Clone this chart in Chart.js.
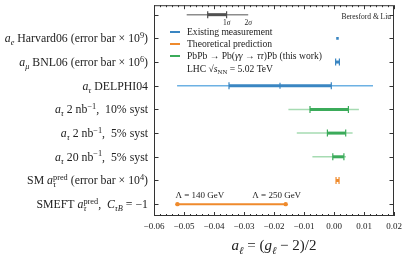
<!DOCTYPE html>
<html>
<head>
<meta charset="utf-8">
<script src="https://cdn.jsdelivr.net/npm/chart.js@4.4.0/dist/chart.umd.min.js"></script>
<style>
  html, body { margin: 0; padding: 0; background: #fff; }
</style>
</head>
<body>
<canvas id="gChart" width="407" height="259"></canvas>
<script>
// Row labels, top to bottom (row 0 holds the 1σ / 2σ key)
const rowLabels = [
    '',
    '*a*_{*e*} Harvard06 (error bar × 10^{9})',
    '*a*_{*μ*} BNL06 (error bar × 10^{6})',
    '*a*_{*τ*} DELPHI04',
    '*a*_{*τ*} 2 nb^{−1},  10% syst',
    '*a*_{*τ*} 2 nb^{−1},  5% syst',
    '*a*_{*τ*} 20 nb^{−1},  5% syst',
    'SM *a*^{pred}_{*τ*} (error bar × 10^{4})',
    'SMEFT *a*^{pred}_{*τ*},  *C*_{*τB*} = −1'
];
const rowKind = ['key', 'existing', 'existing', 'existing', 'lhc', 'lhc', 'lhc', 'theory', 'theory'];

// 1σ (thick) and 2σ (thin) intervals
const lo1 = [-0.0421, null, 0.00054, -0.0350, -0.0080, -0.0022, -0.0004, 0.00068, null];
const hi1 = [-0.0358, null, 0.00180, -0.0009, 0.0048, 0.0039, 0.0033, 0.00168, null];
const lo2 = [-0.0491, null, null, -0.0523, -0.0152, -0.0124, -0.0072, null, null];
const hi2 = [-0.0286, null, null, 0.0130, 0.0083, 0.0062, 0.0040, null, null];

// central values shown as markers
const markerX = [0.00116, -0.018];
const markerRow = [1, 3];

// SMEFT band between the two Λ values
const smeftX = [-0.0522, -0.0161];
const smeftLabels = ['Λ = 140 GeV', 'Λ = 250 GeV'];

const legendItems = ['Existing measurement', 'Theoretical prediction', 'PbPb → Pb(*γγ* → *ττ*)Pb (this work)'];
const legendKinds = ['existing', 'theory', 'lhc'];

const xTicks = [-0.06, -0.05, -0.04, -0.03, -0.02, -0.01, 0.00, 0.01, 0.02];
const xTitle = '*a*_{*ℓ*} = (*g*_{*ℓ*} − 2)/2';

const colors = {
    key: { thin: '#8c8c8c', thick: '#505050' },
    existing: { thin: '#6db1e3', thick: '#3a86c2' },
    lhc: { thin: '#a6dbb2', thick: '#3bab5a' },
    theory: { thin: '#f4a35a', thick: '#ef8a2c' }
};

const SERIF = "'Liberation Serif', 'DejaVu Serif', serif";

// tiny markup: *italic*, _{sub}, ^{sup}
function parseRich(s) {
    const out = [];
    let buf = '', italic = false, mode = 'n';
    const flush = () => { if (buf) out.push({ t: buf, it: italic, mode: mode }); buf = ''; };
    for (let i = 0; i < s.length; i++) {
        const c = s[i];
        if (c === '*') { flush(); italic = !italic; continue; }
        if ((c === '_' || c === '^') && s[i + 1] === '{') { flush(); mode = c === '_' ? 'sub' : 'sup'; i++; continue; }
        if (c === '}' && mode !== 'n') { flush(); mode = 'n'; continue; }
        buf += c;
    }
    flush();
    return out;
}

function drawRich(ctx, str, x, y, size, align) {
    const segs = parseRich(str);
    const fontOf = s => (s.it ? 'italic ' : '') + (s.mode === 'n' ? size : size * 0.7).toFixed(1) + 'px ' + SERIF;
    let cx = 0, gStart = null, run = { sub: 0, sup: 0 };
    segs.forEach(s => {
        ctx.font = fontOf(s);
        s.w = ctx.measureText(s.t).width;
        if (s.mode === 'n') {
            if (gStart !== null) { cx = gStart + Math.max(run.sub, run.sup); gStart = null; }
            s.x = cx; cx += s.w;
        } else {
            if (gStart === null) { gStart = cx; run = { sub: 0, sup: 0 }; }
            s.x = gStart + run[s.mode];
            run[s.mode] += s.w;
        }
    });
    if (gStart !== null) cx = gStart + Math.max(run.sub, run.sup);
    const off = align === 'right' ? x - cx : align === 'center' ? x - cx / 2 : x;
    ctx.textBaseline = 'alphabetic';
    ctx.textAlign = 'left';
    segs.forEach(s => {
        ctx.font = fontOf(s);
        const dy = s.mode === 'sub' ? size * 0.25 : s.mode === 'sup' ? -size * 0.38 : 0;
        ctx.fillText(s.t, off + s.x, y + dy);
    });
    return cx;
}

function fmtTick(v) {
    const s = Math.abs(v).toFixed(2);
    return v < -1e-9 ? '\u2212' + s : s;
}

// Draws error bars, frame, ticks and all the text through the chart's scales
const forestPlugin = {
    id: 'forest',
    beforeDatasetsDraw(chart) {
        const { ctx, scales: { x, y } } = chart;
        ctx.save();
        ctx.lineCap = 'butt';
        for (let i = 0; i < rowLabels.length; i++) {
            const col = colors[rowKind[i]];
            const py = y.getPixelForValue(i);
            if (lo2[i] !== null) {
                ctx.strokeStyle = col.thin;
                ctx.lineWidth = 1.5;
                ctx.beginPath();
                ctx.moveTo(x.getPixelForValue(lo2[i]), py);
                ctx.lineTo(x.getPixelForValue(hi2[i]), py);
                ctx.stroke();
            }
            if (lo1[i] !== null) {
                const a = x.getPixelForValue(lo1[i]), b = x.getPixelForValue(hi1[i]);
                ctx.strokeStyle = col.thick;
                ctx.lineWidth = 3;
                ctx.beginPath();
                ctx.moveTo(a, py);
                ctx.lineTo(b, py);
                ctx.stroke();
                ctx.lineWidth = 1.2;
                ctx.beginPath();
                [a, b].forEach(px => { ctx.moveTo(px, py - 3.5); ctx.lineTo(px, py + 3.5); });
                ctx.stroke();
            }
        }
        ctx.restore();
    },
    afterDraw(chart) {
        const { ctx, chartArea: ca, scales: { x, y } } = chart;
        ctx.save();
        ctx.fillStyle = '#222';

        // frame
        ctx.strokeStyle = '#333';
        ctx.lineWidth = 1;
        ctx.strokeRect(ca.left + 0.5, ca.top + 0.5, ca.right - ca.left - 1, ca.bottom - ca.top - 1);

        // x ticks: major + minor, inward on bottom and top
        ctx.beginPath();
        for (let k = 0; k <= 40; k++) {
            const v = -0.06 + k * 0.002;
            const px = Math.round(x.getPixelForValue(v)) + 0.5;
            const len = k % 5 === 0 ? 4 : 2;
            ctx.moveTo(px, ca.bottom); ctx.lineTo(px, ca.bottom - len);
            ctx.moveTo(px, ca.top); ctx.lineTo(px, ca.top + len);
        }
        // y ticks, both sides
        for (let i = 0; i < rowLabels.length; i++) {
            const py = Math.round(y.getPixelForValue(i)) + 0.5;
            ctx.moveTo(ca.left, py); ctx.lineTo(ca.left + 4.5, py);
            ctx.moveTo(ca.right, py); ctx.lineTo(ca.right - 4.5, py);
        }
        ctx.stroke();

        // x tick labels
        ctx.font = '9px ' + SERIF;
        ctx.textAlign = 'center';
        ctx.textBaseline = 'alphabetic';
        xTicks.forEach(v => ctx.fillText(fmtTick(v), x.getPixelForValue(v), ca.bottom + 13));

        // row labels
        for (let i = 1; i < rowLabels.length; i++) {
            drawRich(ctx, rowLabels[i], ca.left - 6, y.getPixelForValue(i) + 4, 11.8, 'right');
        }

        // axis title
        drawRich(ctx, xTitle, (ca.left + ca.right) / 2, ca.bottom + 34, 15, 'center');

        // 1σ / 2σ key labels
        const ky = y.getPixelForValue(0) + 10;
        drawRich(ctx, '1*σ*', x.getPixelForValue(hi1[0]), ky, 7.5, 'center');
        drawRich(ctx, '2*σ*', x.getPixelForValue(hi2[0]), ky, 7.5, 'center');

        // credit
        drawRich(ctx, 'Beresford & Liu', ca.right - 3, ca.top + 14, 7.5, 'right');

        // legend
        legendItems.forEach((txt, j) => {
            const ly = 35 + j * 12;
            ctx.strokeStyle = colors[legendKinds[j]].thick;
            ctx.lineWidth = 2;
            ctx.beginPath();
            ctx.moveTo(170, ly - 3); ctx.lineTo(180, ly - 3);
            ctx.stroke();
            drawRich(ctx, txt, 187, ly, 9.6, 'left');
        });
        drawRich(ctx, 'LHC √*s*_{NN} = 5.02 TeV', 187, 35 + 3 * 12 + 1, 9.6, 'left');

        // SMEFT Λ labels
        const sy = y.getPixelForValue(8) - 6;
        drawRich(ctx, smeftLabels[0], x.getPixelForValue(smeftX[0]) - 2, sy, 9, 'left');
        drawRich(ctx, smeftLabels[1], x.getPixelForValue(smeftX[1]) - 9, sy, 9, 'center');

        ctx.restore();
    }
};

const ctx = document.getElementById('gChart').getContext('2d');
const gChart = new Chart(ctx, {
    type: 'scatter',
    data: {
        datasets: [
            {
                label: 'central values',
                data: markerX.map((v, k) => ({ x: v, y: markerRow[k] })),
                pointStyle: ['rect', 'line'],
                pointRotation: [0, 90],
                pointRadius: [1.8, 3],
                pointBorderWidth: [0, 1.2],
                pointBackgroundColor: colors.existing.thick,
                pointBorderColor: colors.existing.thick
            },
            {
                type: 'line',
                label: 'SMEFT',
                data: smeftX.map(v => ({ x: v, y: 8 })),
                borderColor: colors.theory.thick,
                borderWidth: 2,
                pointRadius: 2.2,
                pointBackgroundColor: colors.theory.thick,
                pointBorderWidth: 0
            }
        ]
    },
    options: {
        responsive: false,
        animation: false,
        layout: { padding: { left: 154, right: 13, top: 5, bottom: 43 } },
        scales: {
            x: { type: 'linear', min: -0.06, max: 0.02, display: false },
            y: { type: 'linear', min: -0.4, max: 8.5, reverse: true, display: false }
        },
        plugins: { legend: { display: false }, tooltip: { enabled: false } }
    },
    plugins: [forestPlugin]
});
</script>
</body>
</html>
